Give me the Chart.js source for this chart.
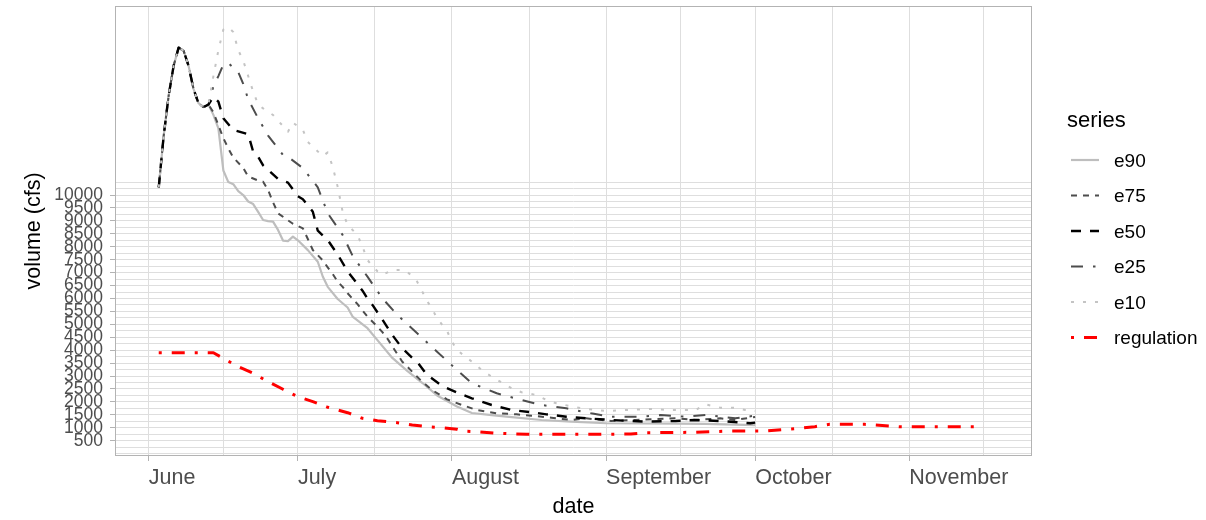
<!DOCTYPE html>
<html>
<head>
<meta charset="utf-8">
<script src="https://cdn.jsdelivr.net/npm/chart.js@4/dist/chart.umd.min.js"></script>
<style>
  html, body { margin: 0; padding: 0; background: #fff; }
</style>
</head>
<body>
<canvas id="chart" width="1206" height="520"></canvas>
<script>
// x values are days since 1 June, y values are cfs
const trunk = [[2,10300],[3,12300],[4,13850],[5,15000],[6,15700],[7,15580],[8,15000],[9,14100],[10,13550],[11,13400],[12,13500]];

const e90 = [[13,13100],[14,12580],[15,10950],[16,10500],[17,10420],[18,10150],[19,10000],[20,9750],[21,9650],[22,9350],[23,9035],[24,8990],[25,8970],[26,8650],[27,8240],[28,8220],[29,8390],[30,8250],[32,7870],[34,7420],[35,6850],[36,6450],[38,5980],[40,5650],[41,5300],[44,4850],[46,4390],[49,3700],[52,3200],[55,2740],[58,2250],[62,1820],[65,1570],[69,1490],[72,1430],[79,1300],[85,1235],[92,1175],[106,1160],[112,1150],[122,1105]];

const e75 = [[13,13200],[14,12700],[15,12200],[16,11800],[17,11450],[19,11050],[20,10720],[22,10560],[23,10515],[24,10194],[25,9720],[26,9293],[29,8890],[31,8713],[32,8300],[33,7874],[35,7475],[36,7200],[37,6950],[38,6650],[39,6450],[40,6200],[42,5780],[44,5295],[46,4908],[47,4700],[48,4450],[49,4150],[50,3850],[51,3555],[53,3168],[55,2782],[57,2460],[60,2100],[63,1880],[66,1687],[70,1560],[74,1520],[77,1467],[81,1390],[85,1300],[88,1366],[93,1262],[98,1300],[106,1366],[110,1300],[115,1366],[118,1300],[122,1420]];

const e50 = [[13,13800],[14,13610],[15,12966],[17,12515],[20,12350],[21,11676],[22,11482],[23,11150],[26,10620],[28,10480],[30,9950],[31,9835],[33,9355],[34,8620],[36,8261],[38,7700],[40,7050],[42,6550],[43,6300],[44,6000],[45,5750],[47,5180],[49,4587],[51,4073],[53,3700],[54,3550],[56,3041],[59,2620],[62,2360],[65,2140],[69,1880],[73,1687],[77,1598],[80,1520],[84,1428],[88,1366],[93,1300],[100,1235],[106,1262],[110,1300],[116,1250],[121,1173],[122,1200]];

const e25 = [[13,14200],[14,14600],[15,15050],[16,15100],[18,14750],[19,14300],[20,13700],[22,12966],[24,12300],[27,11548],[28,11480],[31,11040],[34,10300],[36,9293],[39,8455],[41,7650],[44,6842],[47,6007],[50,5361],[54,4653],[58,3942],[62,3234],[65,2720],[70,2333],[75,2074],[79,1880],[84,1753],[89,1560],[93,1428],[99,1428],[103,1494],[108,1428],[112,1494],[118,1366],[122,1467]];

const e10 = [[13,14600],[14,15600],[15,16400],[16,16500],[17,16300],[18,15600],[19,15200],[21,14000],[22,13500],[23,13350],[25,13095],[28,12450],[29,12800],[31,12515],[32,12050],[35,11500],[36,11650],[37,11100],[38,10322],[39,9355],[40,8841],[42,8455],[43,8002],[44,7488],[45,7250],[46,7050],[47,6908],[49,7101],[51,7101],[52,7036],[53,6850],[54,6649],[56,5900],[57,5600],[58,5233],[60,4750],[61,4328],[62,4007],[65,3555],[67,3234],[69,2975],[73,2526],[75,2372],[78,2267],[80,2074],[82,1946],[87,1753],[92,1649],[96,1687],[101,1726],[105,1687],[110,1687],[112,1907],[115,1776],[118,1776],[120,1687],[122,1649]];

const regulation = [[2,3900],[13,3900],[15,3686],[18,3362],[21,3106],[24,2782],[27,2488],[30,2201],[33,2008],[36,1792],[40,1583],[43,1366],[46,1273],[50,1196],[53,1107],[56,1041],[59,1003],[62,941],[63,875],[66,848],[70,786],[76,747],[90,747],[97,759],[100,809],[110,825],[117,875],[124,875],[131,979],[134,1041],[137,1134],[144,1134],[151,1041],[168,1041]];

const monthStarts = [0, 30, 61, 92, 122, 153];
const monthNames = ["June", "July", "August", "September", "October", "November"];
const midMonths = [15, 45.5, 76.5, 107, 137.5, 168];
const yBreaks = [500, 1000, 1500, 2000, 2500, 3000, 3500, 4000, 4500, 5000, 5500, 6000, 6500, 7000, 7500, 8000, 8500, 9000, 9500, 10000];

const FONT = "'Liberation Sans', Arial, sans-serif";
Chart.defaults.font.family = FONT;

const series = [
    { label: "e90", points: trunk.concat(e90), color: "#bebebe", width: 2.2, dash: [], order: 5 },
    { label: "e75", points: trunk.concat(e75), color: "#4d4d4d", width: 2, dash: [6, 6], order: 4 },
    { label: "e50", points: trunk.concat(e50), color: "#000000", width: 2.4, dash: [10, 9], order: 2 },
    { label: "e25", points: trunk.concat(e25), color: "#4d4d4d", width: 2, dash: [12, 10, 2.5, 10], order: 3 },
    { label: "e10", points: trunk.concat(e10), color: "#c4c4c4", width: 2, dash: [3, 9], order: 1 },
    { label: "regulation", points: regulation, color: "#ff0000", width: 3, dash: [3, 10, 13, 10], order: 0 },
];

// y gridlines every 250 from 0 to 10500, ticks/labels on the 500 breaks
const yGrid = [];
for (let v = 0; v <= 10500; v += 250) yGrid.push(v);

const panelBorder = {
    id: "panelBorder",
    afterDatasetsDraw(chart) {
        const { ctx, chartArea: a } = chart;
        ctx.save();
        ctx.strokeStyle = "#b3b3b3";
        ctx.lineWidth = 1;
        ctx.strokeRect(a.left + 0.5, a.top + 0.5, a.width - 1, a.height - 1);
        ctx.restore();
    },
};

// ggplot-style legend to the right of the panel
const sideLegend = {
    id: "sideLegend",
    afterDraw(chart) {
        const ctx = chart.ctx;
        ctx.save();
        ctx.fillStyle = "#000";
        ctx.textBaseline = "middle";
        ctx.textAlign = "left";
        ctx.font = "22px " + FONT;
        ctx.fillText("series", 1067, 121);
        ctx.font = "19px " + FONT;
        chart.data.datasets.forEach((ds, i) => {
            const y = 160 + i * 35.5;
            ctx.beginPath();
            ctx.strokeStyle = ds.borderColor;
            ctx.lineWidth = ds.borderWidth;
            ctx.setLineDash(ds.borderDash);
            ctx.moveTo(1071, y);
            ctx.lineTo(1099, y);
            ctx.stroke();
            ctx.setLineDash([]);
            ctx.fillText(ds.label, 1114, y + 1.5);
        });
        ctx.restore();
    },
};

new Chart(document.getElementById("chart"), {
    type: "line",
    data: {
        datasets: series.map((s) => ({
            label: s.label,
            data: s.points.map(([x, y]) => ({ x, y })),
            borderColor: s.color,
            borderWidth: s.width,
            borderDash: s.dash,
            borderJoinStyle: "round",
            pointRadius: 0,
            tension: 0,
            fill: false,
            order: s.order,
        })),
    },
    options: {
        responsive: false,
        animation: false,
        devicePixelRatio: 1,
        layout: { padding: { top: 6, right: 174, bottom: 0, left: 0 } },
        plugins: { legend: { display: false }, tooltip: { enabled: false } },
        scales: {
            x: {
                type: "linear",
                min: -6.8,
                max: 177.7,
                afterBuildTicks: (axis) => {
                    axis.ticks = monthStarts.concat(midMonths).sort((a, b) => a - b).map((v) => ({ value: v }));
                },
                afterFit: (axis) => {
                    axis.height = 64;
                    axis.paddingLeft = 0;
                    axis.paddingRight = 0;
                },
                ticks: {
                    autoSkip: false,
                    maxRotation: 0,
                    minRotation: 0,
                    align: "start",
                    padding: 4,
                    color: "#4d4d4d",
                    font: { size: 21.5 },
                    callback: (value) => {
                        const i = monthStarts.indexOf(value);
                        return i >= 0 ? monthNames[i] : "";
                    },
                },
                grid: {
                    color: "#dedede",
                    lineWidth: 1,
                    tickLength: 5,
                    tickColor: (c) => (c.tick && monthStarts.includes(c.tick.value) ? "#b3b3b3" : "rgba(0,0,0,0)"),
                },
                border: { display: false },
                title: {
                    display: true,
                    text: "date",
                    color: "#000",
                    font: { size: 21.5 },
                    padding: { top: 0, bottom: 0 },
                },
            },
            y: {
                type: "linear",
                min: -92,
                max: 17310,
                afterBuildTicks: (axis) => {
                    axis.ticks = yGrid.map((v) => ({ value: v }));
                },
                afterFit: (axis) => {
                    axis.width = 115;
                    axis.paddingTop = 0;
                    axis.paddingBottom = 0;
                },
                ticks: {
                    autoSkip: false,
                    padding: 7,
                    color: "#4d4d4d",
                    font: { size: 17.5 },
                    callback: (value) => (yBreaks.includes(value) ? String(value) : ""),
                },
                grid: {
                    color: "#dedede",
                    lineWidth: 1,
                    tickLength: 5,
                    tickColor: (c) => (c.tick && yBreaks.includes(c.tick.value) ? "#b3b3b3" : "rgba(0,0,0,0)"),
                },
                border: { display: false },
                title: {
                    display: true,
                    text: "volume (cfs)",
                    color: "#000",
                    font: { size: 21.5 },
                    padding: { top: 21, bottom: 0 },
                },
            },
        },
    },
    plugins: [panelBorder, sideLegend],
});
</script>
</body>
</html>
